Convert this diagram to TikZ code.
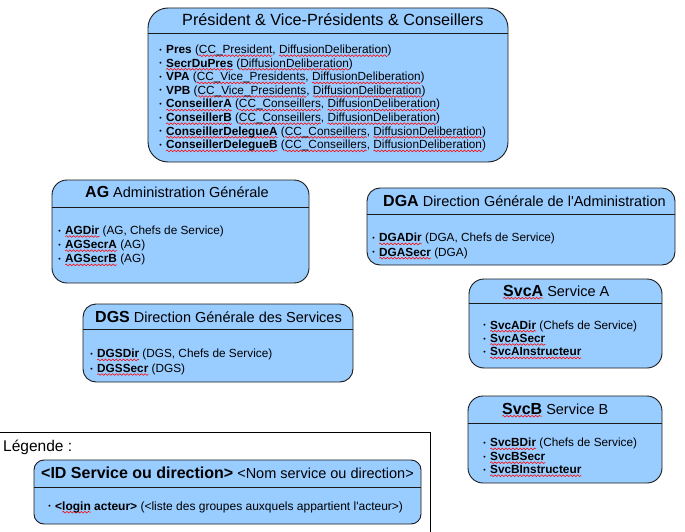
\documentclass[tikz,border=0pt]{standalone}
\usepackage{fontspec}
\setmainfont{Liberation Sans}
\usetikzlibrary{decorations.pathmorphing}
\definecolor{boxfill}{HTML}{99CCFF}
\definecolor{boxline}{HTML}{1A1A1A}
\newlength\sqw
\newcommand\sq[1]{\settowidth\sqw{#1}\rlap{\tikz[baseline=0pt,x=1pt,y=1pt,overlay]\draw[red,line width=0.55pt,decorate,decoration={snake,amplitude=0.85pt,segment length=3.6pt}] (0pt,-2.2pt) -- (\sqw,-2.2pt);}#1}
\newcommand\bul{\llap{\raisebox{1.3pt}{\fontsize{7}{7}\selectfont •}\hspace{4.3pt}}}
\newcommand\ap{\textquotesingle}
\begin{document}
\begin{tikzpicture}[x=1pt,y=-1pt,
  box/.style={draw=boxline,fill=boxfill,line width=0.9pt},
  sep/.style={draw=boxline,line width=0.9pt},
  ttl/.style={anchor=base west,inner sep=0pt,font=\fontsize{14.5}{16}\selectfont},
  item/.style={anchor=base west,inner sep=0pt,font=\fontsize{11.8}{13}\selectfont}]
\useasboundingbox (0,0) rectangle (685,532);
\newcommand\bid[1]{{\fontsize{16}{18}\selectfont\bfseries #1}}

% President box
\draw[box,rounded corners=20] (148,8) rectangle (508,162);
\draw[sep] (148,33) -- (508,33);
\node[ttl,font=\fontsize{16.2}{18}\selectfont] (prestitle) at (182,25.7) {Président \& Vice-Présidents \& Conseillers};
\node[item] (p1) at (166,53.5) {\bul\textbf{Pres} (\sq{CC\_President}, \sq{DiffusionDeliberation})};
\node[item] (p2) at (166,67.1) {\bul\textbf{\sq{SecrDuPres}} (\sq{DiffusionDeliberation})};
\node[item] (p3) at (166,80.7) {\bul\textbf{VPA} (\sq{CC\_Vice\_Presidents}, \sq{DiffusionDeliberation})};
\node[item] (p4) at (166,94.3) {\bul\textbf{VPB} (\sq{CC\_Vice\_Presidents}, \sq{DiffusionDeliberation})};
\node[item] (p5) at (166,107.9) {\bul\textbf{\sq{ConseillerA}} (\sq{CC\_Conseillers}, \sq{DiffusionDeliberation})};
\node[item] (p6) at (166,121.5) {\bul\textbf{\sq{ConseillerB}} (\sq{CC\_Conseillers}, \sq{DiffusionDeliberation})};
\node[item] (p7) at (166,135.1) {\bul\textbf{\sq{ConseillerDelegueA}} (\sq{CC\_Conseillers}, \sq{DiffusionDeliberation})};
\node[item] (p8) at (166,148.7) {\bul\textbf{\sq{ConseillerDelegueB}} (\sq{CC\_Conseillers}, \sq{DiffusionDeliberation})};

% AG box
\draw[box,rounded corners=15] (52,180) rectangle (309,283);
\draw[sep] (52,207) -- (309,207);
\node[ttl] (agtitle) at (85,197.5) {\bid{AG} Administration Générale};
\node[item] (ag1) at (65,234.3) {\bul\textbf{\sq{AGDir}} (AG, Chefs de Service)};
\node[item] (ag2) at (65,248.5) {\bul\textbf{\sq{AGSecrA}} (AG)};
\node[item] (ag3) at (65,262.7) {\bul\textbf{\sq{AGSecrB}} (AG)};

% DGS box
\draw[box,rounded corners=13] (83,304) rectangle (353,382);
\draw[sep] (83,329) -- (353,329);
\node[ttl] (dgstitle) at (95,322.3) {\bid{DGS} Direction Générale des Services};
\node[item] (dgs1) at (97,357.7) {\bul\textbf{\sq{DGSDir}} (DGS, Chefs de Service)};
\node[item] (dgs2) at (97,372.3) {\bul\textbf{\sq{DGSSecr}} (DGS)};

% DGA box
\draw[box,rounded corners=13] (367,188) rectangle (675,265);
\draw[sep] (367,214) -- (675,214);
\node[ttl] (dgatitle) at (383,206) {\bid{DGA} Direction Générale de l\ap Administration};
\node[item] (dga1) at (379,241.7) {\bul\textbf{\sq{DGADir}} (DGA, Chefs de Service)};
\node[item] (dga2) at (379,256) {\bul\textbf{\sq{DGASecr}} (DGA)};

% SvcA box
\draw[box,rounded corners=15] (469,279) rectangle (662,368);
\draw[sep] (469,303) -- (662,303);
\node[ttl] (svcatitle) at (503,296) {\bid{\sq{SvcA}} Service A};
\node[item] (sa1) at (490,329) {\bul\textbf{\sq{SvcADir}} (Chefs de Service)};
\node[item] (sa2) at (490,342.3) {\bul\textbf{\sq{SvcASecr}}};
\node[item] (sa3) at (490,355.7) {\bul\textbf{\sq{SvcAInstructeur}}};

% SvcB box
\draw[box,rounded corners=15] (468,396) rectangle (662,483);
\draw[sep] (468,423) -- (662,423);
\node[ttl] (svcbtitle) at (502,414) {\bid{\sq{SvcB}} Service B};
\node[item] (sb1) at (490,446.7) {\bul\textbf{\sq{SvcBDir}} (Chefs de Service)};
\node[item] (sb2) at (490,460.5) {\bul\textbf{\sq{SvcBSecr}}};
\node[item] (sb3) at (490,473.5) {\bul\textbf{\sq{SvcBInstructeur}}};

% Legend
\draw[line width=0.9pt] (-5,432) -- (430,432) -- (430,540);
\node[anchor=base west,inner sep=0pt,font=\fontsize{15.5}{17}\selectfont] (legtitle) at (3,451.5) {Légende :};
\draw[box,rounded corners=10] (34,460) rectangle (421,524);
\draw[sep] (34,487) -- (421,487);
\node[ttl] (legboxtitle) at (41,478.3) {\bid{<ID Service ou direction>} <Nom service ou direction>};
\node[item,font=\fontsize{12}{13}\selectfont] (leg1) at (55,510) {\bul\textbf{<\sq{login} acteur>} (<liste des groupes auxquels appartient l\ap acteur>)};
\end{tikzpicture}
\end{document}
